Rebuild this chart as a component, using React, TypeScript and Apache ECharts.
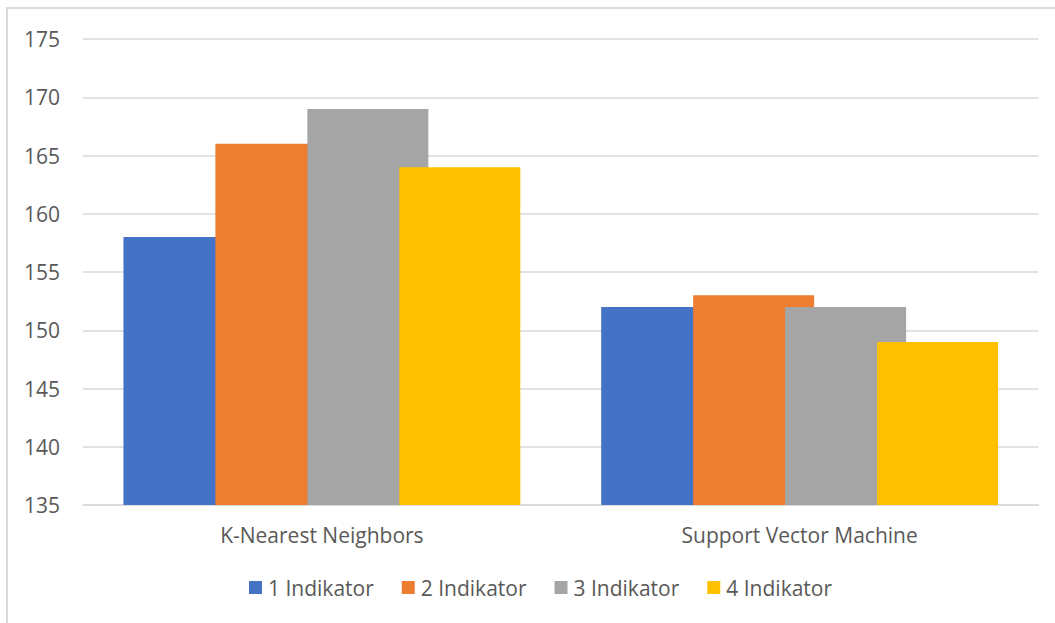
import React, { useEffect, useRef } from "react";
import * as echarts from "echarts";

const categories = ["K-Nearest Neighbors", "Support Vector Machine"];
const seriesNames = ["1 Indikator", "2 Indikator", "3 Indikator", "4 Indikator"];
const indikator1 = [158, 152];
const indikator2 = [166, 153];
const indikator3 = [169, 152];
const indikator4 = [164, 149];
const seriesValues = [indikator1, indikator2, indikator3, indikator4];
const colors = ["#4472C4", "#ED7D31", "#A5A5A5", "#FFC000"];
const yMin = 135;
const yMax = 175;
const yInterval = 5;

const FONT = "Open Sans";
const TEXT = "#595959";

export default function App() {
  const ref = useRef<HTMLDivElement>(null);
  useEffect(() => {
    if (!ref.current) return;
    const chart = echarts.init(ref.current, undefined, { renderer: "svg" });
    chart.setOption({
      animation: false,
      backgroundColor: "#ffffff",
      textStyle: { fontFamily: FONT },
      graphic: [
        {
          type: "rect",
          shape: { x: 7, y: 8, width: 1200, height: 800 },
          style: { fill: "none", stroke: "#d9d9d9", lineWidth: 2 },
          silent: true,
          z: 0,
        },
      ],
      grid: { left: 83, right: 16.5, top: 39, bottom: 118, containLabel: false },
      legend: {
        data: seriesNames,
        left: 244,
        top: 572,
        icon: "rect",
        itemWidth: 13,
        itemHeight: 13,
        itemGap: 28,
        textStyle: { fontFamily: FONT, fontSize: 21, color: TEXT, padding: [0, 0, 0, 1] },
      },
      xAxis: {
        type: "category",
        data: categories,
        axisLine: { show: true, lineStyle: { color: "#d9d9d9", width: 1.5 } },
        axisTick: { show: false },
        axisLabel: { fontFamily: FONT, fontSize: 21, color: TEXT, margin: 19 },
      },
      yAxis: {
        type: "value",
        min: yMin,
        max: yMax,
        interval: yInterval,
        axisLine: { show: false },
        axisTick: { show: false },
        splitLine: { lineStyle: { color: "#d9d9d9", width: 1.5 } },
        axisLabel: { fontFamily: FONT, fontSize: 21, color: TEXT, margin: 23 },
      },
      series: seriesValues.map((vals, i) => ({
        name: seriesNames[i],
        type: "bar",
        data: vals,
        barWidth: 121,
        barGap: "-24%",
        itemStyle: { color: colors[i] },
      })),
    });
    return () => chart.dispose();
  }, []);
  return (
    <div
      ref={ref}
      style={{ position: "fixed", left: 0, top: 0, width: 1055, height: 623 }}
    />
  );
}
